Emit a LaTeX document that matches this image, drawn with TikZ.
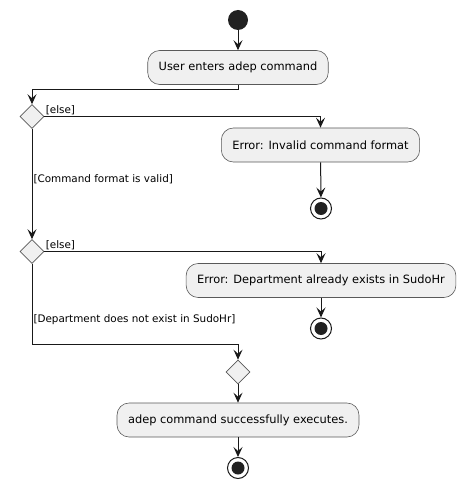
\documentclass[tikz,border=0pt]{standalone}
\usepackage{fontspec}
\setmainfont{DejaVu Sans}
\usetikzlibrary{shapes.geometric,arrows.meta}

\begin{document}
\begin{tikzpicture}[x=1pt,y=-1pt,
    flow/.style={line width=1pt,draw=black!90,-{Stealth[length=10pt,width=9pt,inset=4pt]}},
    act/.style={draw=black!65,line width=0.6pt,fill=black!6,rounded corners=12pt,minimum height=34pt,inner xsep=11pt,font=\fontsize{11.4}{13}\selectfont},
    dec/.style={diamond,draw=black!65,line width=0.6pt,fill=black!6,minimum width=24pt,minimum height=24pt,inner sep=0pt,aspect=1},
    begin/.style={circle,fill=black!87,minimum size=20pt,inner sep=0pt},
    stop/.style={circle,draw=black!90,line width=1pt,fill=white,minimum size=21pt,inner sep=0pt,
      path picture={\fill[black!87] (path picture bounding box.center) circle (6.5pt);}},
    guard/.style={font=\fontsize{10.4}{12}\selectfont,inner sep=1pt}]
        \useasboundingbox (0,0) rectangle (466,489);
        \node[begin] (start) at (238,20) {};
        \node[act] (enter) at (238,67.5) {User enters adep command};
        \node[dec] (checkfmt) at (32,116.5) {};
        \node[act] (badfmt) at (320.5,145) {Error: Invalid command format};
        \node[stop] (stopfmt) at (321,208.5) {};
        \node[dec] (checkdup) at (32,251.5) {};
        \node[act] (dupdept) at (321,280.5) {Error: Department already exists in SudoHr};
        \node[stop] (stopdup) at (321,328.5) {};
        \coordinate (join) at (238,344);
        \node[dec] (merge) at (238,372) {};
        \node[act] (success) at (238,420) {adep command successfully executes.};
        \node[stop] (stopok) at (238,468) {};
        \draw[flow] (start) -- (enter);
        \draw[flow] (enter.south) -- ++(0,5) -| (checkfmt.north);
        \draw[flow] (checkfmt.east) node[guard,above right]{[else]} -| (badfmt.north);
        \draw[flow] (badfmt) -- (stopfmt);
        \draw[flow] (checkfmt.south) -- node[guard,anchor=west,pos=0.46]{[Command format is valid]} (checkdup.north);
        \draw[flow] (checkdup.east) node[guard,above right]{[else]} -| (dupdept.north);
        \draw[flow] (dupdept) -- (stopdup);
        \draw[line width=1pt,draw=black!90] (checkdup.south) |- node[guard,pos=0.35,anchor=west]{[Department does not exist in SudoHr]} (join);
        \draw[flow] (join) -- (merge.north);
        \draw[flow] (merge) -- (success);
        \draw[flow] (success) -- (stopok);
      \end{tikzpicture}
\end{document}
